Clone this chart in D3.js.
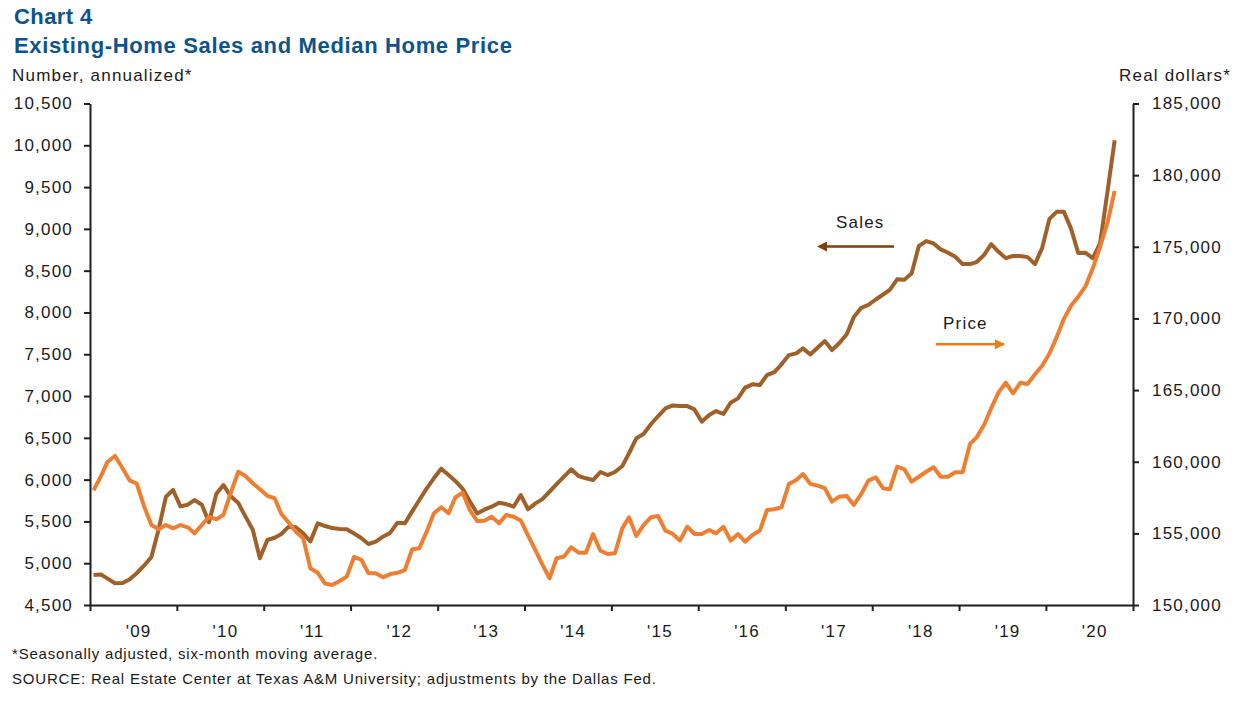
<!DOCTYPE html>
<html><head><meta charset="utf-8">
<script src="https://cdn.jsdelivr.net/npm/d3@7"></script>
<style>
body{margin:0;background:#fff;}
text{font-family:"Liberation Sans",Arial,sans-serif;}
</style></head>
<body><svg id="c" width="1244" height="704"></svg>
<script>
// ---- data ----
const startMonth = "2009-01";
const sales = [4860,4865,4815,4760,4762,4805,4880,4970,5075,5400,5795,5876,
5680,5700,5756,5700,5490,5830,5935,5800,5720,5560,5400,5060,
5278,5305,5350,5437,5430,5358,5260,5477,5445,5420,5410,5405,
5355,5298,5230,5258,5317,5365,5485,5477,5620,5756,5896,6016,
6131,6055,5985,5890,5740,5595,5640,5676,5724,5708,5676,5816,
5645,5716,5764,5855,5947,6035,6123,6043,6016,5995,6091,6055,
6091,6163,6315,6495,6546,6662,6758,6852,6888,6880,6880,6840,
6693,6773,6820,6785,6920,6972,7100,7140,7132,7251,7287,7380,
7490,7510,7570,7498,7578,7658,7550,7635,7740,7945,8055,8090,
8155,8215,8270,8397,8390,8470,8795,8854,8826,8755,8714,8666,
8579,8579,8603,8687,8818,8726,8650,8675,8675,8662,8578,8770,
9120,9206,9206,9000,8710,8714,8650,8830,9450,10060];
const price = [158000,159000,160000,160400,159600,158700,158480,156900,155580,155280,155580,155350,
155580,155420,155000,155580,156150,155980,156300,157850,159300,159000,158500,158080,
157620,157450,156350,155750,155120,154660,152560,152250,151500,151400,151680,151980,
153370,153140,152220,152210,151930,152160,152250,152440,153890,153960,155120,156400,
156820,156400,157500,157840,156630,155860,155880,156160,155700,156280,156160,155900,
154850,153820,152850,151870,153260,153380,154030,153650,153650,154950,153790,153560,
153610,155350,156120,154820,155580,156120,156210,155190,154960,154490,155460,154960,
154960,155230,155000,155460,154490,154950,154420,154890,155190,156630,156680,156820,
158450,158720,159140,158450,158330,158150,157210,157560,157600,156980,157750,158680,
158910,158140,158080,159650,159470,158610,158950,159300,159610,158955,158955,159260,
159260,161240,161700,162560,163730,164840,165515,164775,165515,165425,166100,166700,
167550,168730,169950,170900,171520,172260,173500,175000,176700,178900];
const yearLabels = ["'09","'10","'11","'12","'13","'14","'15","'16","'17","'18","'19","'20"];
const leftTicks = [4500,5000,5500,6000,6500,7000,7500,8000,8500,9000,9500,10000,10500];
const rightTicks = [150000,155000,160000,165000,170000,175000,180000,185000];

// ---- layout ----
const svg = d3.select("#c");
const L = 90, R = 1133, T = 103.5, B = 605;
const x0 = d3.timeParse("%Y-%m")(startMonth);
const months = d3.timeMonth.range(x0, d3.timeMonth.offset(x0, sales.length)).map(d => d3.timeDay.offset(d, 15));
const xEnd = d3.timeYear.offset(x0, yearLabels.length);
const x = d3.scaleTime().domain([x0, xEnd]).range([L, R]);
const yL = d3.scaleLinear().domain([4500, 10500]).range([B, T]);
const yR = d3.scaleLinear().domain([150000, 185000]).range([B, T]);

const ink = "#1f1f1f";
const txt = "#1a1a1a";
function styleAxis(g){
  g.select(".domain").attr("stroke", ink).attr("stroke-width", 2);
  g.selectAll(".tick line").attr("stroke", ink).attr("stroke-width", 2);
  g.selectAll("text").attr("fill",txt).style("font-size","17px")
   .style("letter-spacing","1.2px").style("font-family","'Liberation Sans', Arial, sans-serif");
}

// left axis
svg.append("g").attr("transform",`translate(${L},0)`)
  .call(d3.axisLeft(yL).tickValues(leftTicks).tickFormat(d3.format(",")).tickSize(6).tickSizeOuter(0).tickPadding(11))
  .call(styleAxis);
// right axis
svg.append("g").attr("transform",`translate(${R},0)`)
  .call(d3.axisRight(yR).tickValues(rightTicks).tickFormat(d3.format(",")).tickSize(6).tickSizeOuter(0).tickPadding(13))
  .call(styleAxis);
// bottom axis tick marks at year boundaries
const yearStarts = d3.timeYear.range(x0, d3.timeDay.offset(xEnd,1));
svg.append("g").attr("transform",`translate(0,${B})`)
  .call(d3.axisBottom(x).tickValues(yearStarts).tickFormat("").tickSize(6).tickSizeOuter(0))
  .call(styleAxis);
// year labels
const mids = yearStarts.slice(0, yearLabels.length).map(d => d3.timeMonth.offset(d, 6));
const lab = svg.append("g").attr("transform",`translate(5,${B})`)
  .call(d3.axisBottom(x).tickValues(mids).tickFormat((d,i)=>yearLabels[i]).tickSize(0).tickPadding(20));
lab.select(".domain").remove();
lab.call(styleAxis);

// lines
const lineS = d3.line().x((d,i)=>x(months[i])).y(d=>yL(d));
const lineP = d3.line().x((d,i)=>x(months[i])).y(d=>yR(d));
svg.append("path").datum(sales).attr("d", lineS).attr("fill","none")
  .attr("stroke","#A0602A").attr("stroke-width",4).attr("stroke-linejoin","round");
svg.append("path").datum(price).attr("d", lineP).attr("fill","none")
  .attr("stroke","#EE7F32").attr("stroke-width",4).attr("stroke-linejoin","round");

// titles
const blue = "#0E538C";
svg.append("text").attr("x",14).attr("y",24).text("Chart 4")
  .attr("fill",blue).style("font-size","22px").style("font-weight","bold").style("letter-spacing","0.4px");
svg.append("text").attr("x",14).attr("y",53).text("Existing-Home Sales and Median Home Price")
  .attr("fill",blue).style("font-size","22px").style("font-weight","bold").style("letter-spacing","0.65px");
svg.append("text").attr("x",12).attr("y",81).text("Number, annualized*")
  .attr("fill",txt).style("font-size","17px").style("letter-spacing","1.2px");
svg.append("text").attr("x",1231).attr("y",81).attr("text-anchor","end").text("Real dollars*")
  .attr("fill",txt).style("font-size","17px").style("letter-spacing","1.2px");

// annotations
svg.append("defs").html(`
<marker id="aS" viewBox="0 0 10 10" refX="1" refY="5" markerWidth="4" markerHeight="4" orient="auto-start-reverse"><path d="M0,0L10,5L0,10z" fill="#843C0C"/></marker>
<marker id="aP" viewBox="0 0 10 10" refX="9" refY="5" markerWidth="4" markerHeight="4" orient="auto"><path d="M0,0L10,5L0,10z" fill="#E97D13"/></marker>`);
svg.append("text").attr("x",836).attr("y",228).text("Sales").attr("fill",txt)
  .style("font-size","17px").style("letter-spacing","1.2px");
svg.append("line").attr("x1",894).attr("x2",826).attr("y1",246.5).attr("y2",246.5)
  .attr("stroke","#843C0C").attr("stroke-width",2.5).attr("marker-end","url(#aS)");
svg.append("text").attr("x",943).attr("y",329).text("Price").attr("fill",txt)
  .style("font-size","17px").style("letter-spacing","1.2px");
svg.append("line").attr("x1",936).attr("x2",1004).attr("y1",344.3).attr("y2",344.3)
  .attr("stroke","#E97D13").attr("stroke-width",2.5).attr("marker-end","url(#aP)");

// footnotes
svg.append("text").attr("x",12).attr("y",659).text("*Seasonally adjusted, six-month moving average.")
  .attr("fill",txt).style("font-size","15px").style("letter-spacing","0.8px");
svg.append("text").attr("x",12).attr("y",684).text("SOURCE: Real Estate Center at Texas A&M University; adjustments by the Dallas Fed.")
  .attr("fill",txt).style("font-size","15px").style("letter-spacing","0.8px");
</script></body></html>
